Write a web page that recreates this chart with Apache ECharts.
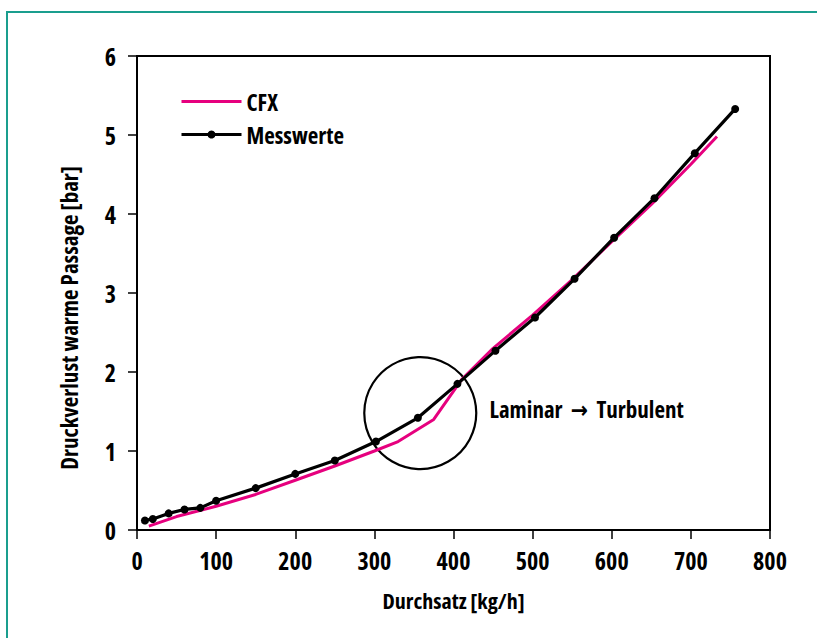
<!DOCTYPE html>
<html>
<head>
<meta charset="utf-8">
<script src="https://cdn.jsdelivr.net/npm/echarts@6/dist/echarts.min.js"></script>
<style>
html,body{margin:0;padding:0;background:#fff;}
#c{width:817px;height:638px;}
#c text{font-stretch:condensed !important;}
</style>
</head>
<body>
<div id="c"></div>
<script>
// Data
var cfxX = [15, 50, 100, 150, 200, 250, 300, 330, 375, 410, 450, 500, 550, 600, 650, 700, 733];
var cfxY = [0.05, 0.17, 0.30, 0.45, 0.63, 0.81, 1.00, 1.12, 1.40, 1.90, 2.30, 2.72, 3.17, 3.65, 4.12, 4.63, 4.98];
var messX = [10, 20, 40, 60, 80, 100, 150, 200, 250, 302, 355, 405, 453, 503, 553, 603, 654, 705, 756];
var messY = [0.12, 0.14, 0.21, 0.26, 0.28, 0.37, 0.53, 0.71, 0.88, 1.12, 1.42, 1.85, 2.27, 2.69, 3.18, 3.70, 4.20, 4.77, 5.33];
var circleCenter = [358, 1.48];
var noteAt = [445, 1.53];
var noteText = 'Laminar  \u2192  Turbulent';
var xTitle = 'Durchsatz [kg/h]';
var yTitle = 'Druckverlust warme Passage [bar]';
var seriesNames = ['CFX', 'Messwerte'];

var FONT = "'Open Sans', 'DejaVu Sans', sans-serif";
function zip(a, b) { return a.map(function (v, i) { return [v, b[i]]; }); }

var chart = echarts.init(document.getElementById('c'), null, { renderer: 'svg' });
chart.setOption({
  backgroundColor: '#fff',
  animation: false,
  textStyle: { fontFamily: FONT, fontWeight: 'bold', color: '#000' },
  graphic: [{
    type: 'rect', z: -10, silent: true,
    shape: { x: 7, y: 12, width: 900, height: 700 },
    style: { fill: 'none', stroke: '#1a9e8e', lineWidth: 2 }
  }],
  grid: { left: 137, top: 56, right: 47, bottom: 108, show: true, borderColor: '#000', borderWidth: 2, backgroundColor: 'transparent' },
  legend: {
    data: [
      { name: seriesNames[0], itemStyle: { opacity: 0 }, lineStyle: { width: 3, color: '#e6007e' } },
      { name: seriesNames[1], lineStyle: { width: 3, color: '#000' } }
    ],
    orient: 'vertical', left: 175, top: 85,
    itemWidth: 60, itemHeight: 10, itemGap: 10,
    textStyle: { fontFamily: FONT, fontWeight: 'bold', fontSize: 23, color: '#000' }
  },
  xAxis: {
    type: 'value', min: 0, max: 800, interval: 100,
    name: xTitle, nameLocation: 'middle', nameGap: 59,
    nameTextStyle: { fontFamily: FONT, fontWeight: 'bold', fontSize: 22, color: '#000' },
    axisLine: { show: true, lineStyle: { color: '#000', width: 2 } },
    axisTick: { show: true, inside: false, length: 9, lineStyle: { color: '#000', width: 1.5 } },
    axisLabel: { margin: 18, fontFamily: FONT, fontWeight: 'bold', fontSize: 24, color: '#000' },
    splitLine: { show: false }
  },
  yAxis: {
    type: 'value', min: 0, max: 6, interval: 1,
    name: yTitle, nameLocation: 'middle', nameGap: 57, nameRotate: 90,
    nameTextStyle: { fontFamily: FONT, fontWeight: 'bold', fontSize: 23, color: '#000', padding: [0, 50, 0, 0] },
    axisLine: { show: true, lineStyle: { color: '#000', width: 2 } },
    axisTick: { show: true, inside: false, length: 9, lineStyle: { color: '#000', width: 1.5 } },
    axisLabel: { margin: 21, fontFamily: FONT, fontWeight: 'bold', fontSize: 24, color: '#000' },
    splitLine: { show: false }
  },
  series: [
    { name: seriesNames[0], type: 'line', data: zip(cfxX, cfxY), symbol: 'none',
      lineStyle: { color: '#e6007e', width: 3 }, itemStyle: { color: '#e6007e' }, z: 3 },
    { name: seriesNames[1], type: 'line', data: zip(messX, messY), symbol: 'circle', symbolSize: 8,
      lineStyle: { color: '#000', width: 3.2 }, itemStyle: { color: '#000' }, z: 4 },
    { name: 'circle', type: 'scatter', data: [circleCenter], symbol: 'circle', symbolSize: 112, silent: true, z: 2,
      itemStyle: { color: 'rgba(0,0,0,0)', borderColor: '#000', borderWidth: 2.2, opacity: 1 } },
    { name: 'note', type: 'scatter', data: [noteAt], symbolSize: 1, silent: true,
      itemStyle: { color: 'rgba(0,0,0,0)', opacity: 1 },
      label: { show: true, position: 'right', distance: 0, formatter: noteText,
        fontFamily: FONT, fontWeight: 'bold', fontSize: 23, color: '#000' } }
  ]
});
</script>
</body>
</html>
